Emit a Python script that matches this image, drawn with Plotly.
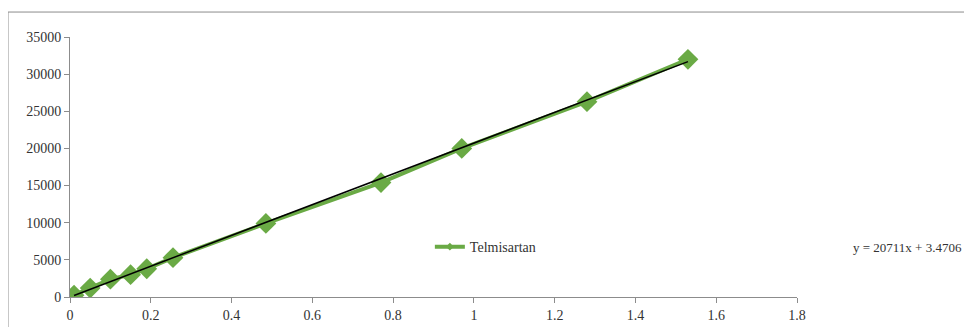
import plotly.graph_objects as go

# concentration vs peak area
conc = [0.01, 0.05, 0.1, 0.15, 0.19, 0.255, 0.485, 0.77, 0.97, 1.28, 1.53]
area = [250, 1200, 2400, 3000, 3800, 5300, 9900, 15400, 20000, 26300, 32000]

slope = 20711
intercept = 3.4706
series_name = 'Telmisartan'

green = '#6aaa45'
font = dict(family='Liberation Serif', size=14, color='#333')

fit_x = [conc[0], conc[-1]]
fit_y = [slope * v + intercept for v in fit_x]

fig = go.Figure()

fig.add_trace(go.Scatter(
    x=conc, y=area,
    mode='lines+markers',
    line=dict(color=green, width=4),
    marker=dict(symbol='diamond', size=16, color=green),
    showlegend=False
))

# linear trendline
fig.add_trace(go.Scatter(
    x=fit_x, y=fit_y,
    mode='lines',
    line=dict(color='black', width=1.5),
    showlegend=False
))

# legend entry with a small marker like the original
fig.add_trace(go.Scatter(
    x=[None], y=[None],
    mode='lines+markers',
    name=series_name,
    line=dict(color=green, width=4),
    marker=dict(symbol='diamond', size=6, color=green)
))

# trendline equation (kept inside the window)
fig.add_annotation(
    x=1.23, y=0.192, xref='paper', yref='paper',
    text='y = %dx + %.4f' % (slope, intercept),
    showarrow=False, xanchor='right', yanchor='middle',
    font=dict(family='Liberation Serif', size=13, color='#333')
)

# outer chart frame (cropped in the original)
fig.add_shape(
    type='rect', xref='paper', yref='paper',
    x0=-0.0853, x1=1.3, y0=-0.2, y1=1.096,
    line=dict(color='#8c8c8c', width=1)
)

fig.update_layout(
    width=972, height=327,
    margin=dict(l=62, r=183, t=29, b=38),
    paper_bgcolor='white',
    plot_bgcolor='white',
    font=font,
    showlegend=True,
    legend=dict(x=0.495, y=0.192, xanchor='left', yanchor='middle',
                bgcolor='rgba(0,0,0,0)', font=font),
    xaxis=dict(range=[0, 1.8], dtick=0.2, showgrid=False, zeroline=False,
               showline=True, linecolor='#8c8c8c', ticks='outside',
               ticklen=5, tickcolor='#8c8c8c'),
    yaxis=dict(range=[0, 35000], dtick=5000, tickformat='d', showgrid=False,
               zeroline=False, showline=True, linecolor='#8c8c8c',
               ticks='outside', ticklen=5, tickcolor='#8c8c8c')
)

fig.write_html("out.html")
